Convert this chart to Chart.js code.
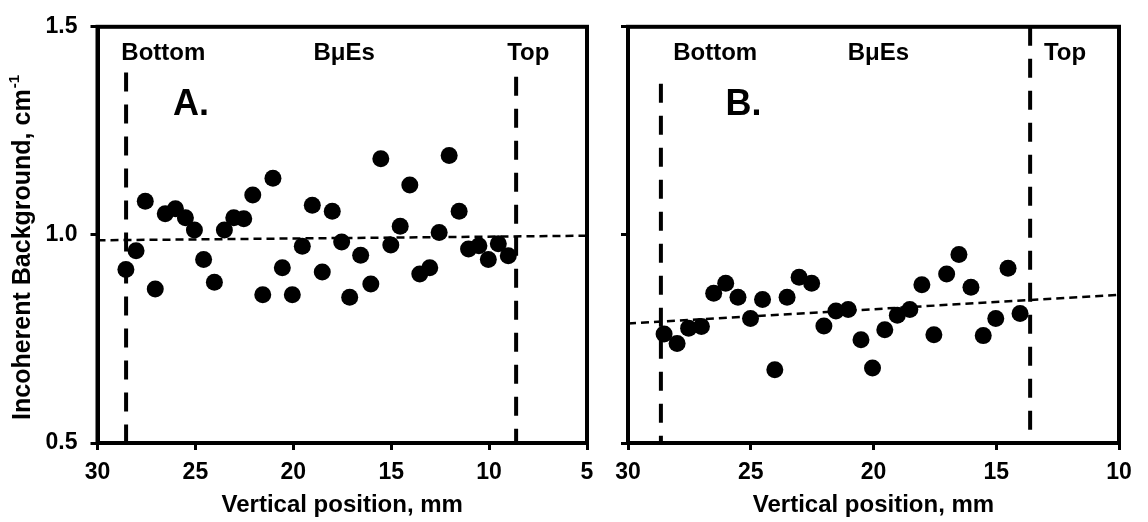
<!DOCTYPE html>
<html>
<head>
<meta charset="utf-8">
<script src="https://cdn.jsdelivr.net/npm/chart.js@4"></script>
<style>
  body { margin: 0; background: #fff; }
  #wrap { position: relative; width: 1148px; height: 522px; }
  canvas { position: absolute; top: 0; }
</style>
</head>
<body>
<div id="wrap">
  <canvas id="panelA" width="605" height="522" style="left:0"></canvas>
  <canvas id="panelB" width="543" height="522" style="left:605px"></canvas>
</div>
<script>
// positions (mm) and incoherent background (cm-1)
const posA = [28.55, 28.03, 27.56, 27.05, 26.54, 26.02, 25.51, 25.05, 24.58, 24.03,
              23.52, 23.04, 22.53, 22.07, 21.56, 21.04, 20.56, 20.05, 19.54, 19.03,
              18.52, 18.01, 17.53, 17.12, 16.56, 16.04, 15.53, 15.02, 14.54, 14.05,
              13.54, 13.03, 12.55, 12.04, 11.53, 11.05, 10.52, 10.04, 9.53, 9.02];
const bgA = [0.917, 0.962, 1.081, 0.870, 1.051, 1.063, 1.041, 1.012, 0.941, 0.886,
             1.012, 1.041, 1.039, 1.096, 0.856, 1.136, 0.921, 0.856, 0.973, 1.071,
             0.911, 1.057, 0.983, 0.850, 0.951, 0.882, 1.183, 0.976, 1.021, 1.120,
             0.906, 0.921, 1.006, 1.191, 1.057, 0.966, 0.974, 0.941, 0.979, 0.950];

const posB = [28.53, 28.00, 27.53, 27.01, 26.51, 26.02, 25.52, 25.01, 24.52, 24.02,
              23.52, 23.03, 22.52, 22.02, 21.53, 21.03, 20.51, 20.04, 19.54, 19.03,
              18.52, 18.03, 17.54, 17.02, 16.52, 16.03, 15.53, 15.02, 14.52, 14.03];
const bgB = [0.762, 0.739, 0.776, 0.780, 0.860, 0.884, 0.850, 0.799, 0.845, 0.676,
             0.850, 0.898, 0.884, 0.781, 0.817, 0.821, 0.748, 0.680, 0.772, 0.807,
             0.821, 0.880, 0.760, 0.906, 0.953, 0.874, 0.758, 0.799, 0.920, 0.811];

// linear fits (end points)
const trendA = [[30, 0.987], [5, 0.998]];
const trendB = [[30, 0.787], [10, 0.856]];

// bottom / top limits of the BμEs phase (mm)
const boundA = [28.54, 8.62];
const boundB = [28.66, 13.62];

const xRangeA = [5, 30];
const xRangeB = [10, 30];
const yTicks = [0.5, 1.0, 1.5];

const FONT = '"Liberation Sans", Arial, sans-serif';

// frame, labels and the y title
const decoPlugin = {
  id: 'deco',
  afterDraw(chart, args, o) {
    const { ctx, chartArea: a, scales: { x, y } } = chart;
    ctx.save();
    ctx.strokeStyle = '#000';
    ctx.lineWidth = 4;
    ctx.strokeRect(a.left, a.top, a.right - a.left, a.bottom - a.top);

    ctx.fillStyle = '#000';
    ctx.textAlign = 'center';
    ctx.textBaseline = 'middle';
    o.labels.forEach(l => {
      ctx.font = 'bold ' + l.size + 'px ' + FONT;
      ctx.fillText(l.text, x.getPixelForValue(l.x), y.getPixelForValue(l.y));
    });

    if (o.yTitle) {
      ctx.translate(23.5, 248);
      ctx.rotate(-Math.PI / 2);
      const main = 'Incoherent Background, cm';
      const sup = '-1';
      ctx.font = 'bold 25px ' + FONT;
      const w1 = ctx.measureText(main).width;
      ctx.font = 'bold 15px ' + FONT;
      const w2 = ctx.measureText(sup).width;
      const start = -(w1 + w2) / 2;
      ctx.textAlign = 'left';
      ctx.font = 'bold 25px ' + FONT;
      ctx.fillText(main, start, 0);
      ctx.font = 'bold 15px ' + FONT;
      ctx.fillText(sup, start + w1 + 1, -9);
    }
    ctx.restore();
  }
};

function makePanel(id, pos, bg, trend, bound, xRange, opt) {
  const pts = pos.map((p, i) => ({ x: p, y: bg[i] }));
  const vline = (v, top) => [{ x: v, y: top }, { x: v, y: 0.5 }];
  const lineStyle = { type: 'line', showLine: true, pointRadius: 0, fill: false, borderColor: '#000' };

  return new Chart(document.getElementById(id), {
    type: 'scatter',
    data: {
      datasets: [
        Object.assign({ data: trend.map(t => ({ x: t[0], y: t[1] })), borderWidth: 2.5, borderDash: [8, 5] }, lineStyle),
        Object.assign({ data: vline(bound[0], opt.bottomTop), borderWidth: 4, borderDash: [19, 13] }, lineStyle),
        Object.assign({ data: vline(bound[1], opt.topTop), borderWidth: 4, borderDash: [19, 13] }, lineStyle),
        {
          data: pts,
          pointRadius: 8.5,
          pointBackgroundColor: '#000',
          pointBorderColor: '#000',
          pointBorderWidth: 0
        }
      ]
    },
    options: {
      responsive: false,
      animation: false,
      layout: { padding: { left: 0, right: opt.padRight, top: 20, bottom: 0 } },
      plugins: {
        legend: { display: false },
        tooltip: { enabled: false },
        deco: { labels: opt.labels, yTitle: opt.yTitle }
      },
      scales: {
        x: {
          type: 'linear',
          reverse: true,
          min: xRange[0],
          max: xRange[1],
          ticks: { stepSize: 5, color: '#000', padding: 9, maxRotation: 0,
                   font: { family: FONT, size: 23, weight: 'bold' } },
          grid: { drawOnChartArea: false, tickLength: 7, tickWidth: 3, tickColor: '#000' },
          border: { color: '#000', width: 4 },
          title: { display: true, text: 'Vertical position, mm', color: '#000',
                   font: { family: FONT, size: 24, weight: 'bold' }, padding: { top: 0, bottom: 2 } },
          afterFit: s => { s.height = 79; }
        },
        y: {
          min: 0.5,
          max: 1.5,
          afterBuildTicks: s => { s.ticks = yTicks.map(v => ({ value: v })); },
          ticks: { color: opt.yTickColor, padding: 13,
                   font: { family: FONT, size: 23, weight: 'bold' },
                   callback: v => v.toFixed(1) },
          grid: { drawOnChartArea: false, tickLength: 7, tickWidth: 3, tickColor: '#000' },
          border: { color: '#000', width: 4 },
          afterFit: s => { s.width = opt.yWidth; }
        }
      }
    },
    plugins: [decoPlugin]
  });
}

makePanel('panelA', posA, bgA, trendA, boundA, xRangeA, {
  padRight: 18, yWidth: 97.5, yTickColor: '#000', yTitle: true,
  bottomTop: 1.39, topTop: 1.38,
  labels: [
    { text: 'Bottom', x: 26.64, y: 1.437, size: 24 },
    { text: 'BμEs', x: 17.4, y: 1.437, size: 24 },
    { text: 'Top', x: 8.0, y: 1.437, size: 24 },
    { text: 'A.', x: 25.23, y: 1.311, size: 36 }
  ]
});

makePanel('panelB', posB, bgB, trendB, boundB, xRangeB, {
  padRight: 29, yWidth: 23, yTickColor: 'rgba(0,0,0,0)', yTitle: false,
  bottomTop: 1.363, topTop: 1.5,
  labels: [
    { text: 'Bottom', x: 26.45, y: 1.437, size: 24 },
    { text: 'BμEs', x: 19.8, y: 1.437, size: 24 },
    { text: 'Top', x: 12.2, y: 1.437, size: 24 },
    { text: 'B.', x: 25.3, y: 1.311, size: 36 }
  ]
});
</script>
</body>
</html>
